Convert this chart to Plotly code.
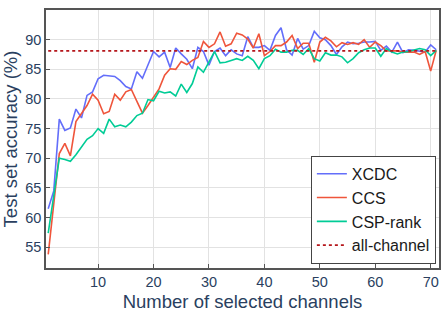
import plotly.graph_objects as go

channels = list(range(1, 72))

xcdc = [61.5, 64.5, 76.6, 74.7, 75.1, 78.3, 76.8, 80.6, 81.2, 83.4,
        84.0, 83.9, 83.8, 83.1, 82.1, 81.7, 84.6, 83.5, 85.8, 88.0,
        87.1, 87.9, 85.3, 88.6, 87.6, 86.7, 85.1, 88.7, 88.0, 85.7,
        88.0, 88.6, 87.3, 88.3, 87.6, 87.3, 90.5, 88.7, 88.7, 89.0,
        88.2, 90.7, 92.0, 88.3, 87.4, 90.2, 88.4, 89.0, 91.4, 90.3,
        90.0, 89.0, 87.5, 88.8, 89.6, 89.3, 89.4, 89.6, 89.6, 89.7,
        88.2, 88.9, 87.9, 89.6, 87.8, 88.3, 88.2, 88.0, 87.9, 89.1,
        88.3]

ccs = [53.8, 62.0, 70.8, 72.5, 70.4, 76.2, 77.5, 78.9, 80.8, 79.8,
       77.5, 77.9, 80.8, 79.8, 81.2, 81.6, 79.6, 77.6, 78.9, 80.3,
       81.7, 84.0, 85.1, 85.0, 86.3, 85.8, 86.5, 87.0, 89.7, 88.7,
       89.3, 91.3, 88.9, 89.3, 91.1, 90.8, 90.1, 88.6, 91.0, 87.3,
       88.0, 89.0, 89.0, 89.6, 90.7, 88.5, 89.4, 89.4, 86.2, 89.6,
       90.4, 89.8, 88.8, 89.5, 89.2, 89.5, 89.2, 90.0, 88.7, 89.6,
       89.0, 88.1, 88.1, 88.1, 87.9, 87.9, 87.9, 87.5, 88.0, 84.7,
       88.2]

csp_rank = [57.4, 63.5, 70.0, 69.8, 69.5, 70.6, 71.8, 73.2, 73.8, 75.0,
            74.2, 76.6, 75.3, 75.6, 75.3, 76.1, 77.2, 77.6, 79.9, 79.7,
            81.3, 81.0, 81.2, 80.5, 82.5, 81.1, 82.6, 85.4, 84.5, 86.2,
            88.0, 86.1, 86.2, 86.5, 86.8, 86.5, 87.2, 86.5, 85.1, 86.8,
            87.3, 88.4, 87.9, 87.9, 88.2, 88.2, 87.5, 88.5, 86.8, 86.4,
            87.8, 87.4, 87.4, 87.1, 86.1, 86.8, 87.8, 88.3, 88.6, 88.6,
            87.2, 88.5, 87.9, 87.6, 87.9, 88.0, 88.2, 88.5, 88.3, 87.3,
            88.2]

all_channel = 88.1

x_ticks = [10, 20, 30, 40, 50, 60, 70]
y_ticks = [55, 60, 65, 70, 75, 80, 85, 90]

fig = go.Figure()
fig.add_trace(go.Scatter(x=channels, y=xcdc, mode="lines", name="XCDC",
                         line=dict(color="#636efa", width=1.6)))
fig.add_trace(go.Scatter(x=channels, y=ccs, mode="lines", name="CCS",
                         line=dict(color="#EF553B", width=1.6)))
fig.add_trace(go.Scatter(x=channels, y=csp_rank, mode="lines", name="CSP-rank",
                         line=dict(color="#00cc96", width=1.6)))
fig.add_trace(go.Scatter(x=[channels[0], channels[-1]], y=[all_channel, all_channel],
                         mode="lines", name="all-channel",
                         line=dict(color="#b5161b", width=1.6, dash="dot")))

axis_common = dict(
    showgrid=True, gridcolor="#e2e2e2", gridwidth=1,
    showline=True, linecolor="#555555", linewidth=1.5, mirror=True,
    ticks="inside", ticklen=4, tickcolor="#555555",
    tickfont=dict(family="Liberation Sans, Arial", size=14.5, color="#2a3f5f"),
    zeroline=False, automargin=False,
)

fig.update_layout(
    width=443, height=317,
    margin=dict(l=46, r=4, t=10, b=49),
    paper_bgcolor="white", plot_bgcolor="white",
    font=dict(family="Liberation Sans, Arial", color="#2a3f5f"),
    xaxis=dict(range=[0.6, 71.5], tickvals=x_ticks,
               title=dict(text="Number of selected channels",
                          font=dict(size=18.5, color="#2a3f5f"), standoff=6),
               **axis_common),
    yaxis=dict(range=[51.5, 95], tickvals=y_ticks,
               title=dict(text="Test set accuracy (%)",
                          font=dict(size=18.5, color="#2a3f5f"), standoff=4),
               **axis_common),
    legend=dict(x=0.833, y=0.016, xanchor="center", yanchor="bottom",
                bgcolor="white", bordercolor="#444444", borderwidth=1,
                font=dict(family="Liberation Sans, Arial", size=16, color="#1a1a1a"),
                tracegroupgap=0, itemwidth=30),
    showlegend=True,
)

fig.write_html("out.html",
               config={"displayModeBar": False},
               post_script="document.body.style.margin='0';document.body.style.padding='0';")
